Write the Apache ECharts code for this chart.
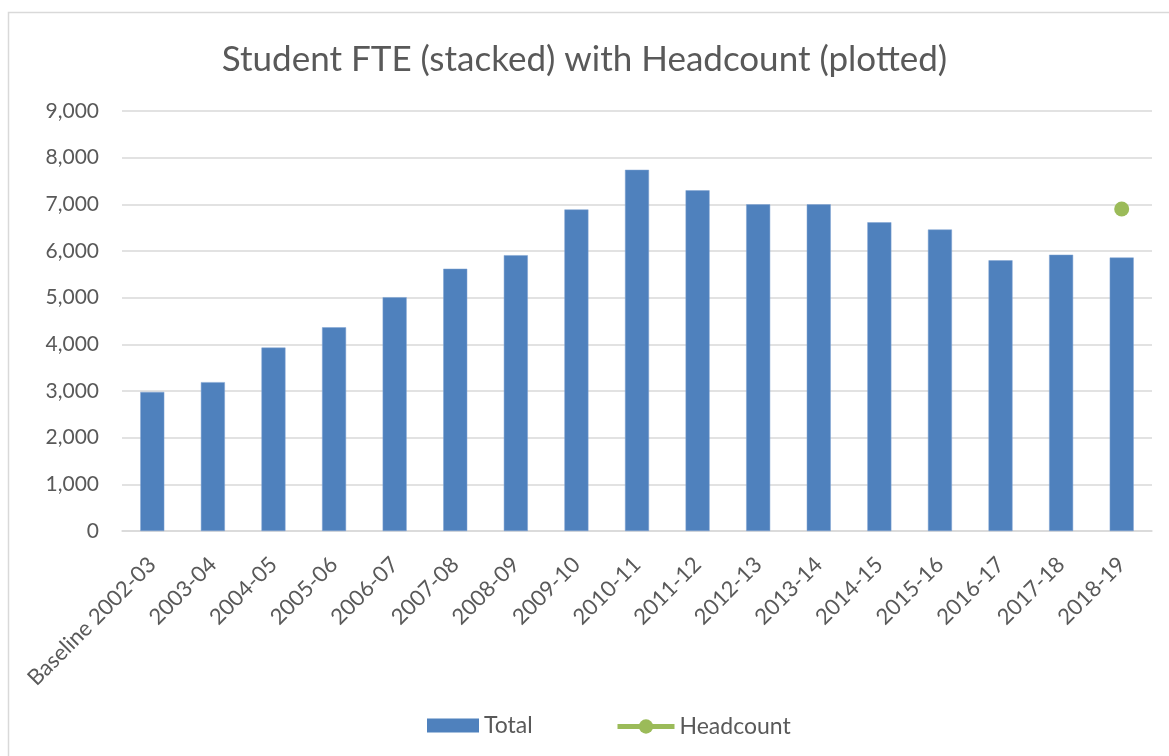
<!DOCTYPE html>
<html>
<head>
<meta charset="utf-8">
<script src="https://cdn.jsdelivr.net/npm/echarts@6/dist/echarts.min.js"></script>
<style>
html,body{margin:0;padding:0;background:#fff;}
#c{width:1169px;height:756px;}
</style>
</head>
<body>
<div id="c"></div>
<script>
const categories = ["Baseline 2002-03","2003-04","2004-05","2005-06","2006-07","2007-08","2008-09","2009-10","2010-11","2011-12","2012-13","2013-14","2014-15","2015-16","2016-17","2017-18","2018-19"];
const totalValues = [2980,3190,3930,4365,5010,5620,5910,6890,7740,7300,7000,7000,6615,6460,5800,5920,5860];
const headcountValues = [null,null,null,null,null,null,null,null,null,null,null,null,null,null,null,null,6900];
const yTicks = {min:0, max:9000, interval:1000};

const FONT = 'Lato, "Open Sans", sans-serif';
const chart = echarts.init(document.getElementById('c'), null, {renderer:'canvas'});
chart.setOption({
  animation:false,
  backgroundColor:'#fff',
  graphic:[{type:'rect', shape:{x:8.5,y:12.5,width:1300,height:900}, style:{fill:null, stroke:'#d9d9d9', lineWidth:1.5}, silent:true}],
  title:{text:'Student FTE (stacked) with Headcount (plotted)', left:'center', top:37,
    textStyle:{fontFamily:FONT, fontSize:35, fontWeight:'normal', color:'#595959'}},
  grid:{left:122, right:17, top:111, bottom:225, containLabel:false},
  legend:[
    {top:709, left:422, itemWidth:52, itemHeight:14, itemGap:0,
     itemStyle:{borderWidth:0},
     textStyle:{fontFamily:FONT, fontSize:23, color:'#595959'},
     data:[{name:'Total', icon:'rect'}]},
    {top:710, left:610, itemWidth:57, itemHeight:18, itemGap:0,
     textStyle:{fontFamily:FONT, fontSize:23, color:'#595959'},
     data:[{name:'Headcount', lineStyle:{width:5, color:'#9bbb59'}}]}
  ],
  xAxis:{type:'category', data:categories,
    axisLine:{lineStyle:{color:'#d9d9d9', width:1.5}},
    axisTick:{show:false},
    axisLabel:{rotate:45, interval:0, fontFamily:FONT, fontSize:22, color:'#595959', margin:30}},
  yAxis:{type:'value', min:yTicks.min, max:yTicks.max, interval:yTicks.interval,
    axisLine:{show:false}, axisTick:{show:false},
    splitLine:{lineStyle:{color:'#d9d9d9', width:1.5}},
    axisLabel:{fontFamily:FONT, fontSize:21, color:'#595959', margin:23,
      formatter:v=>v.toLocaleString('en-US')}},
  series:[
    {name:'Total', type:'bar', data:totalValues, barWidth:24,
     itemStyle:{color:'#4f81bd', borderColor:'#7ea3d3', borderWidth:0.5}},
    {name:'Headcount', type:'line', data:headcountValues, symbol:'circle', symbolSize:15,
     itemStyle:{color:'#9bbb59'}, lineStyle:{color:'#9bbb59', width:5}}
  ]
});
</script>
</body>
</html>
